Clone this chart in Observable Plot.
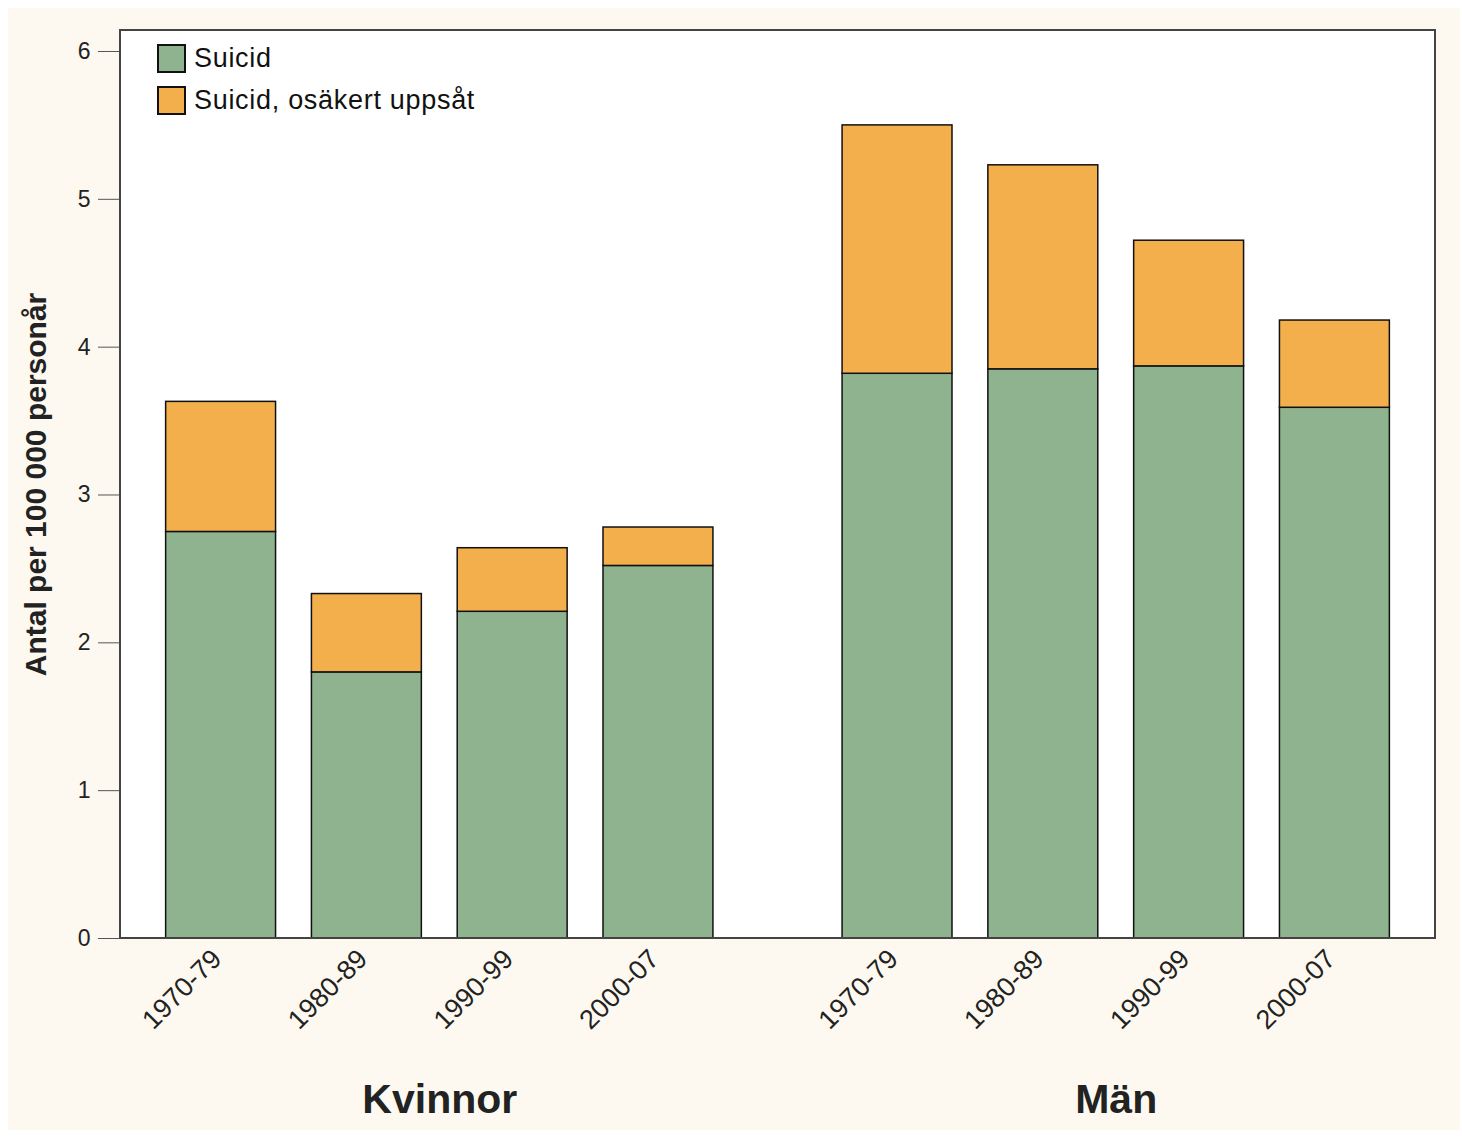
<!DOCTYPE html>
<html><head><meta charset="utf-8">
<script src="https://cdn.jsdelivr.net/npm/d3@7"></script>
<script src="https://cdn.jsdelivr.net/npm/@observablehq/plot@0.6"></script>
<style>
body{margin:0;background:#fff;font-family:"Liberation Sans",Arial,sans-serif;}
#wrap{position:absolute;left:8px;top:8px;width:1452px;height:1122px;background:#FDF9F0;}
#legend{position:absolute;left:149px;top:29px;}
.item{display:flex;align-items:center;height:42px;font-size:27px;letter-spacing:0.7px;color:#111;}
.sw{box-sizing:border-box;width:29px;height:29px;border:2px solid #111;margin-right:8px;}
</style></head><body><div id="wrap"><div id="legend"></div></div>
<script>
const groups = ["Kvinnor", "Män"];
const periods = ["1970-79", "1980-89", "1990-99", "2000-07"];
const causes = ["Suicid", "Suicid, osäkert uppsåt"];
const colors = ["#8FB38E", "#F2AF4B"];
const suicidKvinnor = [2.75, 1.80, 2.21, 2.52];
const osakertKvinnor = [0.88, 0.53, 0.43, 0.26];
const suicidMan = [3.82, 3.85, 3.87, 3.59];
const osakertMan = [1.68, 1.38, 0.85, 0.59];
const yTicks = [0, 1, 2, 3, 4, 5, 6];
const yLabel = "Antal per 100 000 personår";

const series = {Kvinnor: [suicidKvinnor, osakertKvinnor], "Män": [suicidMan, osakertMan]};
const data = [];
for (const g of groups) {
  periods.forEach((p, i) => {
    causes.forEach((c, ci) => data.push({group: g, period: p, cause: c, value: series[g][ci][i]}));
  });
}

const W = 1452, H = 1122, mL = 112, mR = 25, mT = 22, mB = 192;
const plot = Plot.plot({
  width: W, height: H,
  marginLeft: mL, marginRight: mR, marginTop: mT, marginBottom: mB,
  style: {background: "transparent", fontFamily: "'Liberation Sans', Arial, sans-serif", color: "#222", overflow: "visible"},
  fx: {domain: groups, paddingInner: 0.056, paddingOuter: 0, round: false, label: null},
  x: {domain: periods, paddingInner: 0.246, paddingOuter: 0.313, round: false, label: null},
  y: {domain: [0, 6.142], label: null},
  color: {domain: causes, range: colors},
  marks: [
    Plot.barY(data, Plot.stackY({fx: "group", x: "period", y: "value", fill: "cause", stroke: "#111", strokeWidth: 1.5, order: causes})),
    Plot.axisY({ticks: yTicks, tickFormat: "d", tickSize: 22, tickPadding: 8, fontSize: 23, label: yLabel, labelAnchor: "center", labelArrow: "none", labelOffset: 96, stroke: "#555"}),
    Plot.axisX({tickSize: 0, tickRotate: -45, fontSize: 27, tickPadding: 16, dx: -4, label: null}),
    Plot.axisFx({anchor: "bottom", tickSize: 0, tickPadding: 145, fontSize: 41, fontWeight: "bold", label: null})
  ]
});

const svg = d3.select(plot);
svg.insert("rect", ":first-child")
  .attr("x", mL).attr("y", mT).attr("width", W - mL - mR).attr("height", H - mT - mB)
  .attr("fill", "#fff");
svg.append("rect")
  .attr("x", mL).attr("y", mT).attr("width", W - mL - mR).attr("height", H - mT - mB)
  .attr("fill", "none").attr("stroke", "#444").attr("stroke-width", 2);
svg.selectAll('[aria-label="y-axis label"] text, [aria-label="y-axis label"]')
  .attr("font-size", 30).attr("font-weight", "bold");
svg.selectAll('[aria-label="y-axis label"] text').text(yLabel);

document.getElementById("wrap").appendChild(plot);
plot.style.position = "absolute"; plot.style.left = "0"; plot.style.top = "0";

const legend = d3.select("#legend");
causes.forEach((c, i) => {
  const it = legend.append("div").attr("class", "item");
  it.append("div").attr("class", "sw").style("background", colors[i]);
  it.append("span").text(c);
});
document.getElementById("wrap").appendChild(document.getElementById("legend"));
</script></body></html>
